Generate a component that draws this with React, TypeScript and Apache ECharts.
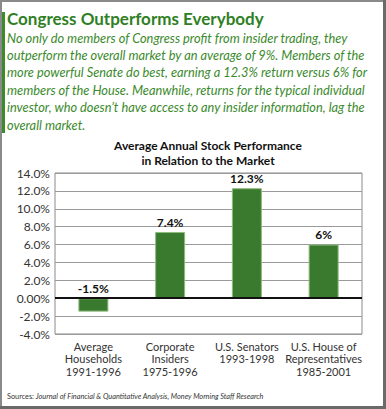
import React, { useEffect, useRef } from "react";
import * as echarts from "echarts";

const categories = [
  "Average\nHouseholds\n1991-1996",
  "Corporate\nInsiders\n1975-1996",
  "U.S. Senators\n1993-1998",
  "U.S. House of\nRepresentatives\n1985-2001",
];
const values = [-1.5, 7.4, 12.3, 6];
const valueLabels = ["-1.5%", "7.4%", "12.3%", "6%"];
const yTicks = [-4, -2, 0, 2, 4, 6, 8, 10, 12, 14];
const yTickLabels = ["-4.0%", "-2.0%", "0.00%", "2.0%", "4.0%", "6.0%", "8.0%", "10.0%", "12.0%", "14.0%"];

const headline = "Congress Outperforms Everybody";
const paragraph = [
  "No only do members of Congress profit from insider trading, they",
  "outperform the overall market by an average of 9%. Members of the",
  "more powerful Senate do best, earning a 12.3% return versus 6% for",
  "members of the House. Meanwhile, returns for the typical individual",
  "investor, who doesn\u2019t have access to any insider information, lag the",
  "overall market.",
];
const chartTitle = ["Average Annual Stock Performance", "in Relation to the Market"];
const sourcePrefix = "Sources: ";
const sourceText = "Journal of Financial & Quantitative Analysis, Money Morning Staff Research";

const GREEN_TEXT = "#3b8a2c";
const GREEN_HEAD = "#2f7f24";
const BAR = "#3a7a2e";
const FONT = "Lato, 'Noto Sans', sans-serif";

export default function App() {
  const ref = useRef<HTMLDivElement>(null);
  useEffect(() => {
    document.body.style.margin = "0";
    if (!ref.current) return;
    const chart = echarts.init(ref.current, null, { renderer: "svg" });
    const paraTexts = paragraph.map((line, i) => ({
      type: "text",
      left: 7,
      top: 31 + i * 17.4,
      style: {
        text: line,
        fill: GREEN_TEXT,
        font: `italic 12.8px ${FONT}`,
      },
    }));
    chart.setOption({
      animation: false,
      backgroundColor: "#ffffff",
      textStyle: { fontFamily: FONT },
      grid: { left: 55, right: 24, top: 173, height: 161, show: true, borderColor: "#8a8a8a", borderWidth: 1, backgroundColor: "transparent" },
      xAxis: {
        type: "category",
        data: categories,
        axisLine: { show: false },
        axisTick: { show: false },
        axisLabel: { color: "#333", fontSize: 11, lineHeight: 12.5, margin: 6, fontFamily: FONT, interval: 0 },
      },
      yAxis: {
        type: "value",
        min: -4,
        max: 14,
        interval: 2,
        axisLine: { show: false },
        axisTick: { show: false },
        splitLine: { lineStyle: { color: "#9a9a9a", width: 1 } },
        axisLabel: {
          color: "#333",
          fontSize: 12,
          margin: 5,
          fontFamily: FONT,
          formatter: (v: number) => yTickLabels[yTicks.indexOf(v)] ?? "",
        },
      },
      series: [
        {
          type: "bar",
          data: values.map((v, i) => ({ value: v, label: { formatter: valueLabels[i] } })),
          barWidth: 30,
          itemStyle: { color: BAR, borderColor: "#8dbb7f", borderWidth: 1 },
          label: { show: true, position: "top", color: "#111", fontWeight: "bold", fontSize: 12, distance: 4, fontFamily: FONT },
          markLine: {
            silent: true,
            symbol: ["none", "none"],
            label: { show: false },
            lineStyle: { color: "#111", width: 2, type: "solid" },
            data: [{ yAxis: 0 }],
          },
        },
      ],
      graphic: [
        { type: "rect", shape: { x: 0, y: 0, width: 386, height: 2 }, style: { fill: "#8a8a8a" } },
        { type: "rect", shape: { x: 0, y: 0, width: 2, height: 409 }, style: { fill: "#8a8a8a" } },
        { type: "rect", shape: { x: 383, y: 0, width: 3, height: 409 }, style: { fill: "#6a6a6a" } },
        { type: "rect", shape: { x: 0, y: 406, width: 386, height: 3 }, style: { fill: "#6a6a6a" } },
        { type: "rect", shape: { x: 2, y: 12, width: 3, height: 121 }, style: { fill: GREEN_TEXT } },
        {
          type: "text",
          left: 7,
          top: 10,
          style: { text: headline, fill: GREEN_HEAD, font: `bold 17px ${FONT}` },
        },
        ...paraTexts,
        {
          type: "text",
          x: 208,
          y: 145,
          style: { text: chartTitle[0], fill: "#111", font: `bold 12px ${FONT}`, textAlign: "center", textVerticalAlign: "middle" },
        },
        {
          type: "text",
          x: 208,
          y: 160,
          style: { text: chartTitle[1], fill: "#111", font: `bold 12px ${FONT}`, textAlign: "center", textVerticalAlign: "middle" },
        },
        {
          type: "text",
          left: 7,
          top: 393,
          style: {
            text: `{a|${sourcePrefix}}{b|${sourceText}}`,
            rich: {
              a: { fontSize: 7.3, fill: "#333", fontFamily: FONT },
              b: { fontSize: 7.3, fill: "#333", fontStyle: "italic", fontFamily: FONT },
            },
          },
        },
      ],
    });
    return () => chart.dispose();
  }, []);
  return <div ref={ref} style={{ width: 386, height: 409 }} />;
}
